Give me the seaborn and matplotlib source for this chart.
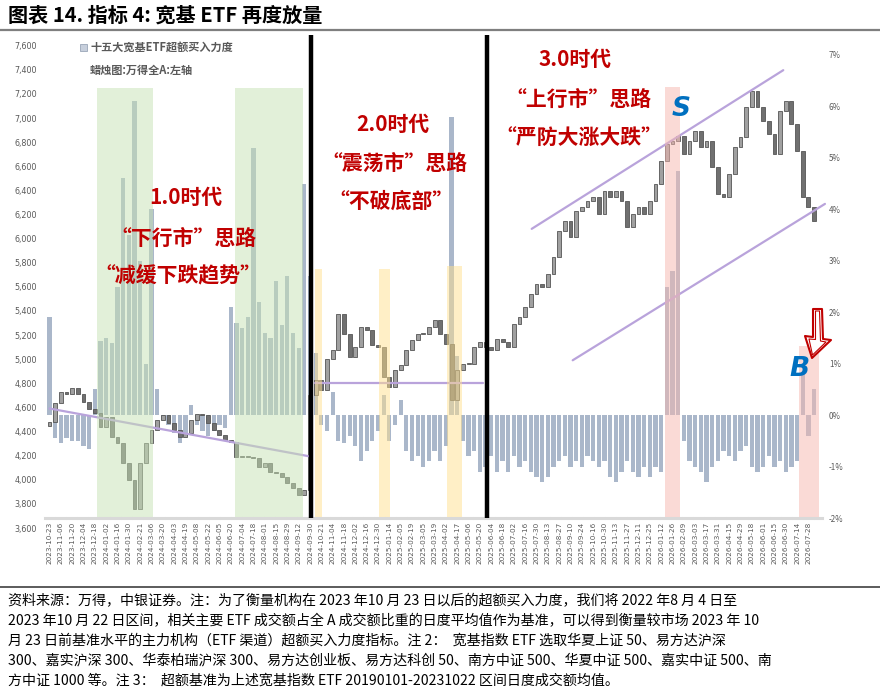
import numpy as np
import pandas as pd
import matplotlib
matplotlib.use("Agg")
import matplotlib.pyplot as plt
from matplotlib.patches import Polygon, Rectangle
from matplotlib.lines import Line2D
import seaborn as sns

# ---------------- data ----------------
tick_labels = [
    "2023-10-23", "2023-11-06", "2023-11-20", "2023-12-04", "2023-12-18",
    "2024-01-02", "2024-01-16", "2024-01-30", "2024-02-21", "2024-03-06",
    "2024-03-20", "2024-04-03", "2024-04-19", "2024-05-08", "2024-05-22",
    "2024-06-05", "2024-06-20", "2024-07-04", "2024-07-18", "2024-08-01",
    "2024-08-15", "2024-08-29", "2024-09-12", "2024-09-30", "2024-10-21",
    "2024-11-04", "2024-11-18", "2024-12-02", "2024-12-16", "2024-12-30",
    "2025-01-14", "2025-02-05", "2025-02-19", "2025-03-05", "2025-03-19",
    "2025-04-02", "2025-04-17", "2025-05-06", "2025-05-20", "2025-06-04",
    "2025-06-18", "2025-07-02", "2025-07-16", "2025-07-30", "2025-08-13",
    "2025-08-27", "2025-09-10", "2025-09-24", "2025-10-16", "2025-10-30",
    "2025-11-13", "2025-11-27", "2025-12-11", "2025-12-25", "2026-01-12",
    "2026-01-26", "2026-02-09", "2026-03-03", "2026-03-17", "2026-03-31",
    "2026-04-15", "2026-04-29", "2026-05-18", "2026-06-01", "2026-06-15",
    "2026-06-30", "2026-07-14", "2026-07-28",
]

# trading-day index of each weekly sample (every 5 trading days)
day = list(range(0, 680, 5))

# 万得全A weekly closes (left axis)
close = [
    4480, 4635, 4728, 4715, 4757, 4715, 4646, 4591, 4550, 4439,
    4521, 4356, 4301, 4136, 3997, 3760, 4136, 4301, 4411, 4494,
    4535, 4467, 4411, 4356, 4384, 4494, 4549, 4535, 4467, 4411,
    4370, 4329, 4315, 4190, 4190, 4190, 4177, 4108, 4136, 4066,
    4053, 4025, 3970, 3929, 3873, 3915, 4700, 4825, 4742, 5005,
    5074, 5377, 5212, 5019, 5101, 5267, 5239, 5115, 5101, 4853,
    4770, 4908, 4949, 5074, 5156, 5212, 5212, 5267, 5322, 5212,
    5129, 4660, 4908, 4963, 4963, 5101, 5142, 5101, 5074, 5170,
    5142, 5101, 5295, 5349, 5432, 5542, 5625, 5597, 5708, 5846,
    6067, 6150, 6012, 6233, 6260, 6315, 6343, 6205, 6398, 6343,
    6398, 6315, 6094, 6205, 6260, 6205, 6315, 6453, 6646, 6784,
    6812, 6853, 6701, 6812, 6895, 6757, 6812, 6591, 6371, 6343,
    6536, 6757, 6839, 7088, 7226, 7088, 6977, 6867, 6701, 7060,
    7143, 6950, 6729, 6343, 6260, 6150,
]
first_open = 4450

# 十五大宽基ETF超额买入力度 (%) (right axis)
excess = [
    1.9, -0.45, -0.55, -0.45, -0.5, -0.5, -0.6, -0.65, 0.5, 1.45,
    1.5, 1.4, 2.5, 4.6, 3.5, 6.1, 3.0, 1.0, 4.0, 0.5,
    -0.1, -0.2, -0.35, -0.55, -0.4, 0.2, -0.2, -0.3, -0.4, -0.3,
    -0.2, -0.25, 2.1, 1.8, 1.7, 1.9, 5.2, 2.2, 1.6, 1.5,
    2.6, 1.75, 2.7, 1.6, 1.3, 4.5, 2.7, 1.2, -0.2, -0.3,
    0.45, -0.5, -0.55, -0.4, -0.6, -0.9, -0.7, -0.5, -0.3, 0.4,
    -0.5, -0.2, 0.3, -0.7, -0.9, -0.8, -1.0, -0.9, -0.7, -0.9,
    -0.6, 5.8, 1.15, -0.5, -0.8, -0.7, -1.1, -1.0, -0.8, -1.1,
    -0.9, -1.1, -0.8, -1.0, -0.9, -1.1, -1.2, -1.3, -1.2, -1.0,
    -0.9, -0.8, -1.0, -0.9, -1.0, -0.8, -0.9, -1.0, -0.9, -1.2,
    -1.3, -1.1, -0.9, -1.1, -1.2, -1.0, -1.2, -1.0, -1.1, 2.5,
    2.8, 4.75, -0.5, -0.9, -1.0, -1.1, -1.3, -1.0, -0.9, -0.7,
    -0.8, -0.9, -0.7, -0.6, -1.0, -1.1, -1.0, -0.8, -1.0, -0.9,
    -1.1, -1.0, -0.9, 0.8, -0.4, 0.5,
]

# highlighted periods (trading-day index start, end, top on left axis)
green_bands = [(42, 91, 7251), (164, 224, 7251)]
orange_bands = [(234, 241, 5752), (291, 301, 5752), (351, 364, 5771)]
pink_bands = [(543, 557, 7259), (662, 679, 5109)]
era_lines = [231, 386]
# purple trend lines: (day0, value0, day1, value1) on left axis
trend_lines = [(0, 4591, 228.5, 4196), (234.4, 4806, 382.4, 4806),
               (425.7, 6081, 647.8, 7397), (461.9, 4991, 684.6, 6288)]

# ---------------- style ----------------
sns.set_theme(style="white")
plt.rcParams['font.family'] = ['Noto Sans CJK SC', 'DejaVu Sans']
plt.rcParams['axes.unicode_minus'] = False

W, H = 880, 694
fig = plt.figure(figsize=(W / 100, H / 100), dpi=100)


def fx(x):
    return x / W


def fy(y):
    return 1 - y / H


X0, X1 = 45, 822
PX0, PXD = 49.5, 1.1327
xlim = ((X0 - PX0) / PXD, (X1 - PX0) / PXD)

grey_txt = '#595959'

# right axis (bars)
ax2 = fig.add_axes([fx(X0), fy(518), (X1 - X0) / W, (518 - 55) / H])
df = pd.DataFrame({"day": day, "excess": excess})
sns.barplot(data=df, x="day", y="excess", native_scale=True, orient="x",
            width=0.75, color="#AAB7CA", saturation=1, errorbar=None,
            ax=ax2, linewidth=0)
ax2.set_xlim(*xlim)
ax2.set_ylim(-2, 7)
ax2.yaxis.tick_right()
ax2.set_yticks(range(-2, 8))
ax2.set_yticklabels([f"{v}%" for v in range(-2, 8)], fontsize=5.8, color=grey_txt)
ax2.set_xticks(range(0, 10 * len(tick_labels), 10))
ax2.set_xticklabels(tick_labels, rotation=90, fontsize=5.2, color=grey_txt,
                    family='DejaVu Sans')
ax2.tick_params(axis='both', length=0, pad=3)
ax2.tick_params(axis='y', pad=5)
ax2.set_xlabel("")
ax2.set_ylabel("")
for s in ['top', 'left', 'right']:
    ax2.spines[s].set_visible(False)
ax2.spines['bottom'].set_color('#D9D9D9')
ax2.spines['bottom'].set_linewidth(2.2)
ax2.spines['bottom'].set_linestyle((0, (1.2, 0.6)))

# left axis (candles)
ax = fig.add_axes([fx(X0), fy(528), (X1 - X0) / W, (528 - 45.7) / H])
ax.patch.set_visible(False)
opens = [first_open] + close[:-1]
bottoms = [min(o, c) for o, c in zip(opens, close)]
heights = [max(abs(c - o), 8) for o, c in zip(opens, close)]
cols = ['#A0A0A0' if c >= o else '#707070' for o, c in zip(opens, close)]
ax.bar(day, heights, bottom=bottoms, width=3.4, color=cols,
       edgecolor='#555555', linewidth=0.6, zorder=3)
ax.set_xlim(*xlim)
ax.set_ylim(3600, 7600)
ax.set_yticks(range(3600, 7601, 200))
ax.set_yticklabels([f"{v:,}" for v in range(3600, 7601, 200)],
                   fontsize=5.8, color=grey_txt, family='DejaVu Sans')
ax.tick_params(axis='y', length=0, pad=6)
ax.tick_params(axis='x', length=0, labelbottom=False)
for s in ax.spines.values():
    s.set_visible(False)

# trend lines
for d0, v0, d1, v1 in trend_lines:
    sns.lineplot(x=[d0, d1], y=[v0, v1], color='#B9A3DB', lw=1.6, ax=ax,
                 zorder=4, clip_on=False)

# bands
bottom_v = 3691
for a, b, top in green_bands:
    ax.fill_between([a, b], bottom_v, top, color='#C6E2B4', alpha=0.5, lw=0, zorder=5)
for a, b, top in orange_bands:
    ax.fill_between([a, b], bottom_v, top, color='#FFE08F', alpha=0.5, lw=0, zorder=5)
for a, b, top in pink_bands:
    ax.fill_between([a, b], bottom_v, top, color='#F6B7AF', alpha=0.5, lw=0, zorder=5)

# era separators
for d in era_lines:
    ax.plot([d, d], [3683, 7690], color='black', lw=3.2, zorder=6, clip_on=False,
            solid_capstyle='butt')

# ---------------- annotations ----------------
red = '#C00000'
blue = '#0070C0'
ann = [
    ("1.0时代", 186, 197), ("“下行市”思路", 183, 238), ("“减缓下跌趋势”", 178, 276),
    ("2.0时代", 393, 124), ("“震荡市”思路", 394, 163), ("“不破底部”", 391, 201),
    ("3.0时代", 575, 59), ("“上行市”思路", 578, 99), ("“严防大涨大跌”", 579, 138),
]
for t, x, y in ann:
    fig.text(fx(x), fy(y), t, ha='center', va='center', fontsize=15,
             fontweight='bold', color=red)

fig.text(fx(681), fy(109), "S", ha='center', va='center', fontsize=19,
         fontweight='bold', style='italic', color=blue, family='DejaVu Sans')
fig.text(fx(799), fy(369), "B", ha='center', va='center', fontsize=19,
         fontweight='bold', style='italic', color=blue, family='DejaVu Sans')

# hollow red block arrow pointing down-left
arrow_px = [(813, 309), (822, 309), (823, 339), (831, 340), (812, 358),
            (805, 336), (813, 337)]
fig.add_artist(Polygon([(fx(x), fy(y)) for x, y in arrow_px], closed=True,
                       transform=fig.transFigure, fc='white', ec=red, lw=1.5,
                       joinstyle='round', zorder=10))
inner_px = [(815.5, 311), (819.5, 311), (820.5, 341), (826, 342), (812.5, 355),
            (809, 339), (815.5, 339.5)]
fig.add_artist(Polygon([(fx(x), fy(y)) for x, y in inner_px], closed=True,
                       transform=fig.transFigure, fc='none', ec=red, lw=0.8,
                       joinstyle='round', zorder=10))

# legend
fig.add_artist(Rectangle((fx(79.5), fy(51)), 7 / W, 7 / H, transform=fig.transFigure,
                         fc='#C7CFDC', ec='#9AA6B8', lw=0.6))
fig.text(fx(90), fy(47.5), "十五大宽基ETF超额买入力度", ha='left', va='center',
         fontsize=8, fontweight='bold', color=grey_txt)
fig.text(fx(90), fy(70), "蜡烛图:万得全A:左轴", ha='left', va='center',
         fontsize=8, fontweight='bold', color=grey_txt)

# title
fig.text(fx(8), fy(15), "图表 14. 指标 4: 宽基 ETF 再度放量", ha='left', va='center',
         fontsize=14.5, fontweight='bold', color='black')
fig.add_artist(Line2D([0, 1], [fy(30), fy(30)], transform=fig.transFigure,
                      color='#7F7F7F', lw=1.6))
fig.add_artist(Line2D([0, 1], [fy(587), fy(587)], transform=fig.transFigure,
                      color='#404040', lw=1.2))

notes = [
    "资料来源：万得，中银证券。注：为了衡量机构在 2023 年10 月 23 日以后的超额买入力度，我们将 2022 年8 月 4 日至",
    "2023 年10 月 22 日区间，相关主要 ETF 成交额占全 A 成交额比重的日度平均值作为基准，可以得到衡量较市场 2023 年 10",
    "月 23 日前基准水平的主力机构（ETF 渠道）超额买入力度指标。注 2：  宽基指数 ETF 选取华夏上证 50、易方达沪深",
    "300、嘉实沪深 300、华泰柏瑞沪深 300、易方达创业板、易方达科创 50、南方中证 500、华夏中证 500、嘉实中证 500、南",
    "方中证 1000 等。注 3：  超额基准为上述宽基指数 ETF 20190101-20231022 区间日度成交额均值。",
]
for k, line in enumerate(notes):
    fig.text(fx(8), fy(601 + 20 * k), line, ha='left', va='center',
             fontsize=10.1, color='black')

fig.savefig("out.png", dpi=100)
